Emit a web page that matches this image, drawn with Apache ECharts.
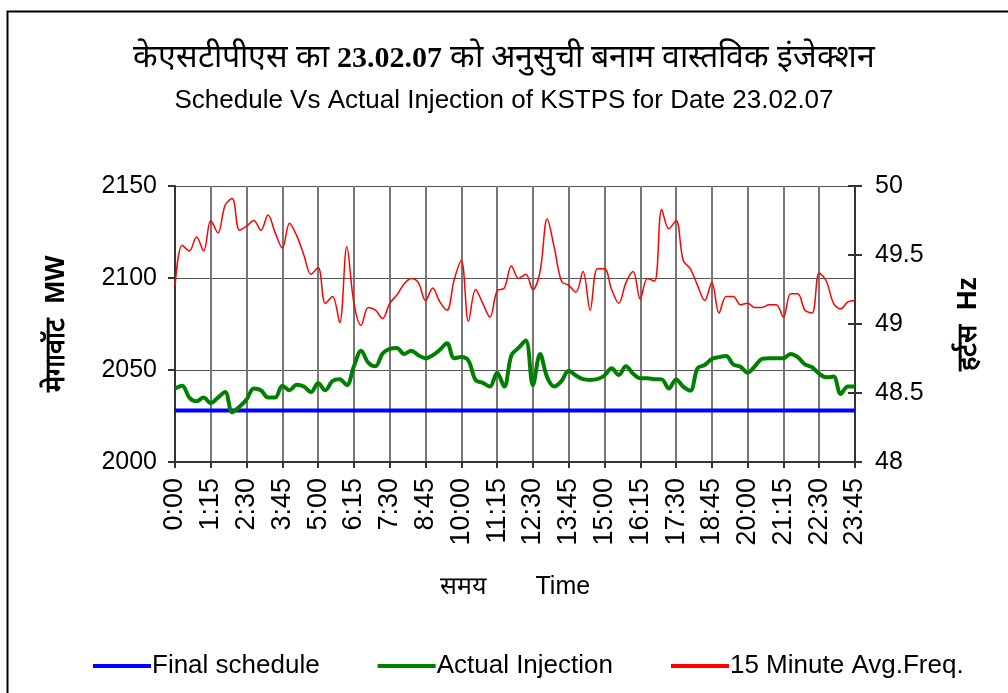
<!DOCTYPE html>
<html>
<head>
<meta charset="utf-8">
<script src="https://cdn.jsdelivr.net/npm/echarts@6/dist/echarts.min.js"></script>
<style>
  html, body { margin: 0; padding: 0; background: #fff; }
  #chart { width: 1008px; height: 693px; }
</style>
</head>
<body>
<div id="chart"></div>
<script>
// time slots, 15 min each
var times = [];
for (var h = 0; h < 24; h++) {
  for (var m = 0; m < 60; m += 15) {
    times.push(h + ':' + (m < 10 ? '0' + m : m));
  }
}

var schedule = [];
for (var k = 0; k < times.length; k++) schedule.push(2028);

var actual = [
  2040, 2041.5, 2035, 2033, 2035, 2032, 2035, 2038, 2027, 2030,
  2034, 2040, 2039, 2035, 2035, 2041.5, 2039, 2042, 2041, 2038,
  2042.8, 2039, 2044, 2045, 2041.8, 2052, 2060.5, 2054, 2052, 2059,
  2061.5, 2062, 2058.7, 2060.5, 2058, 2056.4, 2058, 2061, 2064.5, 2056.4,
  2057, 2055, 2044.5, 2043, 2041, 2048.5, 2041, 2058, 2062, 2066,
  2041.8, 2058.7, 2046, 2041, 2044, 2049.6, 2047, 2045, 2044.6, 2045,
  2047, 2050.9, 2047.3, 2052, 2048, 2045.5, 2045.5, 2045, 2044.9, 2040,
  2044.9, 2041, 2038.8, 2051, 2052.7, 2056, 2057, 2057.6, 2053, 2051.8,
  2048.5, 2052, 2056, 2056.4, 2056.4, 2056.4, 2058.7, 2057, 2053, 2051.5,
  2048, 2046, 2046.4, 2037, 2041, 2041
];

var freq = [
  49.27, 49.57, 49.53, 49.63, 49.53, 49.75, 49.66, 49.86, 49.91, 49.68,
  49.71, 49.75, 49.68, 49.79, 49.66, 49.55, 49.73, 49.64, 49.50, 49.36,
  49.41, 49.15, 49.20, 49.01, 49.56, 49.15, 48.99, 49.12, 49.10, 49.04,
  49.15, 49.21, 49.29, 49.33, 49.30, 49.17, 49.26, 49.16, 49.10, 49.32,
  49.46, 49.02, 49.25, 49.15, 49.05, 49.24, 49.26, 49.42, 49.33, 49.36,
  49.25, 49.38, 49.76, 49.55, 49.31, 49.28, 49.23, 49.38, 49.10, 49.40,
  49.40, 49.25, 49.15, 49.30, 49.38, 49.18, 49.33, 49.31, 49.83, 49.69,
  49.75, 49.46, 49.40, 49.28, 49.17, 49.30, 49.08, 49.20, 49.20, 49.14,
  49.15, 49.12, 49.12, 49.14, 49.14, 49.05, 49.22, 49.22, 49.10, 49.08,
  49.37, 49.31, 49.15, 49.11, 49.16, 49.17
];

var font = 'Liberation Sans, Arial, sans-serif';

var chart = echarts.init(document.getElementById('chart'));
chart.setOption({
  animation: false,
  backgroundColor: '#fff',
  title: [{
    text: 'केएसटीपीएस का {b|23.02.07} को अनुसुची बनाम वास्तविक इंजेक्शन',
    left: 'center',
    top: 38,
    textStyle: {
      fontSize: 32, fontWeight: 'normal', color: '#000', fontFamily: 'serif',
      rich: {
        b: { fontSize: 30, fontWeight: 'bold', color: '#000', fontFamily: 'Liberation Serif, serif' }
      }
    }
  }, {
    text: 'Schedule Vs Actual Injection of KSTPS for Date 23.02.07',
    left: 'center',
    top: 83,
    textStyle: { fontSize: 26, fontWeight: 'normal', color: '#000', fontFamily: font }
  }],
  graphic: [{
    type: 'rect',
    left: 5,
    top: 9,
    shape: { width: 1010, height: 700 },
    style: { fill: 'none', stroke: '#000', lineWidth: 2 }
  }],
  legend: {
    bottom: 9,
    left: 88,
    icon: 'rect',
    itemWidth: 58,
    itemHeight: 4,
    itemGap: 58,
    textStyle: { fontSize: 26, color: '#000', fontFamily: font, padding: [0, 0, 0, -4] },
    data: ['Final schedule', 'Actual Injection', '15 Minute Avg.Freq.']
  },
  grid: {
    left: 175,
    right: 153,
    top: 186,
    bottom: 231
  },
  xAxis: {
    type: 'category',
    boundaryGap: false,
    data: times,
    name: 'समय       Time',
    nameLocation: 'middle',
    nameGap: 113,
    nameTextStyle: { fontSize: 25, color: '#000', fontFamily: font },
    axisLine: { lineStyle: { color: '#333', width: 2 } },
    axisTick: { interval: 4, length: 6, lineStyle: { color: '#333', width: 2 } },
    axisLabel: {
      interval: 4,
      rotate: 90,
      margin: 16,
      fontSize: 27,
      color: '#000',
      fontFamily: font
    },
    splitLine: { show: true, interval: 4, lineStyle: { color: '#777', width: 2 } }
  },
  yAxis: [{
    type: 'value',
    min: 2000,
    max: 2150,
    interval: 50,
    name: 'मेगावॉट  MW',
    nameLocation: 'middle',
    nameGap: 105,
    nameRotate: 90,
    nameTextStyle: { fontSize: 27, fontWeight: 'bold', color: '#000', fontFamily: font },
    axisLine: { show: true, lineStyle: { color: '#333', width: 2 } },
    axisTick: { show: true, length: 7, lineStyle: { color: '#333', width: 2 } },
    axisLabel: {
      fontSize: 25, color: '#000', margin: 18, fontFamily: font,
      formatter: function (v) { return String(v); }
    },
    splitLine: { show: true, lineStyle: { color: '#555', width: 1 } }
  }, {
    type: 'value',
    min: 48,
    max: 50,
    interval: 0.5,
    position: 'right',
    name: 'हर्टस  Hz',
    nameLocation: 'middle',
    nameGap: 100,
    nameRotate: 90,
    nameTextStyle: { fontSize: 27, fontWeight: 'bold', color: '#000', fontFamily: font },
    axisLine: { show: true, lineStyle: { color: '#333', width: 2 } },
    axisTick: { show: true, length: 7, lineStyle: { color: '#333', width: 2 } },
    axisLabel: { fontSize: 25, color: '#000', margin: 20, fontFamily: font },
    splitLine: { show: false }
  }, {
    // inner half of the crossing ticks on the right axis
    type: 'value',
    min: 48,
    max: 50,
    interval: 0.5,
    position: 'right',
    axisLine: { show: false },
    axisTick: { show: true, inside: true, length: 7, lineStyle: { color: '#333', width: 2 } },
    axisLabel: { show: false },
    splitLine: { show: false }
  }],
  series: [{
    name: 'Final schedule',
    type: 'line',
    data: schedule,
    yAxisIndex: 0,
    symbol: 'none',
    lineStyle: { color: '#0000ff', width: 4 },
    itemStyle: { color: '#0000ff' },
    z: 3
  }, {
    name: 'Actual Injection',
    type: 'line',
    data: actual,
    yAxisIndex: 0,
    symbol: 'none',
    smooth: 0.35,
    lineStyle: { color: '#008000', width: 4 },
    itemStyle: { color: '#008000' },
    z: 4
  }, {
    name: '15 Minute Avg.Freq.',
    type: 'line',
    data: freq,
    yAxisIndex: 1,
    symbol: 'none',
    smooth: 0.35,
    lineStyle: { color: '#ff0000', width: 1.5 },
    itemStyle: { color: '#ff0000' },
    z: 5
  }]
});
</script>
</body>
</html>
